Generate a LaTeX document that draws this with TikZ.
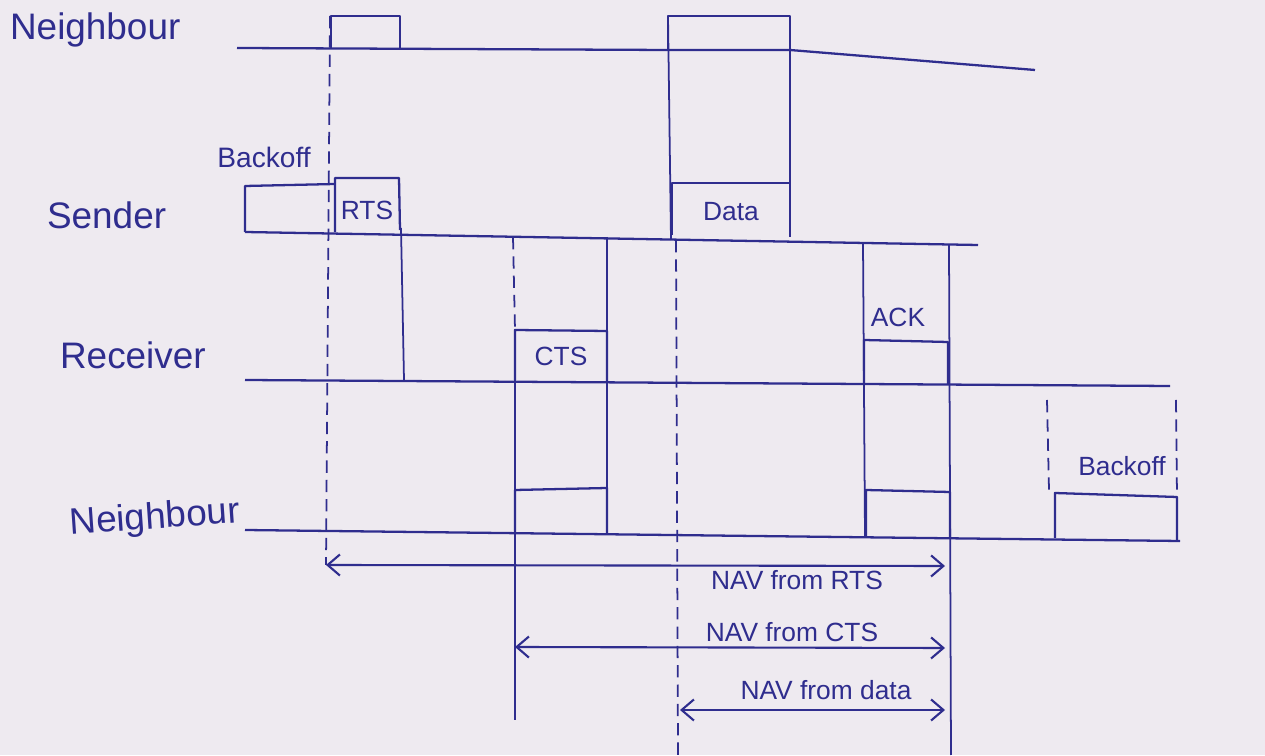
\documentclass[tikz,border=0pt]{standalone}
\usepackage{fontspec}
\setmainfont{Liberation Sans}
\usetikzlibrary{arrows.meta, positioning, calc}
\definecolor{inkblue}{HTML}{2F2D8E}
\definecolor{paper}{HTML}{EEEAF0}

\begin{document}
\begin{tikzpicture}[
  x=0.02cm, y=-0.02cm,
  every node/.style={text=inkblue, inner sep=1pt},
  lane/.style={draw=inkblue, line width=1.3pt, line join=round},
  slot/.style={draw=inkblue, line width=1.3pt, line join=round},
  guide/.style={draw=inkblue, line width=1pt},
  guidedash/.style={draw=inkblue, line width=1pt, dash pattern=on 7pt off 4pt},
  navarrow/.style={draw=inkblue, line width=1.2pt,
                   {Straight Barb[length=7pt,width=12pt]}-{Straight Barb[length=7pt,width=12pt]}},
  who/.style={font=\fontsize{21}{24}\selectfont, anchor=west},
  frame/.style={font=\fontsize{15}{18}\selectfont},
  navlabel/.style={font=\fontsize{15}{18}\selectfont},
]
  \fill[paper] (0,0) rectangle (1265,755);

  % station names
  \node[who] (nbtop) at (8,30) {Neighbour};
  \node[who] (sender) at (45,215) {Sender};
  \node[who] (receiver) at (58,355) {Receiver};
  \node[who, rotate=4] (nbbot) at (68,525) {Neighbour};

  % time lines
  \draw[lane] (237,48) -- (668,50) -- (790,50) -- (1035,70);
  \draw[lane] (245,232) -- (978,245);
  \draw[lane] (245,380) -- (1170,386);
  \draw[lane] (245,530) -- (1180,541);

  % neighbour (top) busy slots
  \draw[slot] (331,48) -- (331,16) -- (400,16) -- (400,48);
  \draw[slot] (668,50) -- (668,16) -- (790,16) -- (790,50);

  % sender
  \draw[slot] (245,232) -- (245,186) -- (335,184);
  \draw[slot] (335,232) -- (335,178) -- (399,178) -- (400,230);
  \draw[slot] (672,235) -- (672,183) -- (790,183) -- (790,237);
  \node (backoffA) at (264,157) {\fontsize{16}{18}\selectfont Backoff};
  \node[frame] (rts) at (367,210) {RTS};
  \node[frame] (data) at (731,212) {Data};

  % receiver
  \draw[slot] (515,380) -- (515,330) -- (607,331) -- (607,381);
  \draw[slot] (864,383) -- (864,340) -- (948,342) -- (948,384);
  \node[frame] (cts) at (561,356) {CTS};
  \node[frame] (ack) at (898,317) {ACK};

  % neighbour (bottom)
  \draw[slot] (515,533) -- (515,490) -- (607,488) -- (607,533);
  \draw[slot] (866,537) -- (866,490) -- (950,492) -- (950,538);
  \draw[slot] (1055,538) -- (1055,493) -- (1177,497) -- (1177,541);
  \node[frame] (backoffB) at (1122,466) {Backoff};

  % guides
  \draw[guidedash] (330,16) -- (326,565);
  \draw[guide] (401,228) -- (404,380);
  \draw[guidedash] (513,237) -- (515,330);
  \draw[guide] (515,330) -- (515,720);
  \draw[guide] (607,237) -- (607,527);
  \draw[guide] (668,16) -- (671,240);
  \draw[guidedash] (676,240) -- (678,755);
  \draw[guide] (790,16) -- (790,237);
  \draw[guide] (863,243) -- (865,537);
  \draw[guide] (949,245) -- (951,755);
  \draw[guidedash] (1047,400) -- (1049,490);
  \draw[guidedash] (1176,400) -- (1177,497);

  % NAV periods
  \coordinate (rtsL) at (326,565);
  \coordinate (rtsR) at (945,566);
  \coordinate (ctsL) at (515,647);
  \coordinate (ctsR) at (945,648);
  \coordinate (dataL) at (680,710);
  \coordinate (dataR) at (945,710);
  \draw[navarrow] (rtsL) -- (rtsR);
  \draw[navarrow] (ctsL) -- (ctsR);
  \draw[navarrow] (dataL) -- (dataR);
  \node[navlabel] (navrts) at (797,580) {NAV from RTS};
  \node[navlabel] (navcts) at (792,632) {NAV from CTS};
  \node[navlabel] (navdata) at (826,690) {NAV from data};
\end{tikzpicture}
\end{document}
